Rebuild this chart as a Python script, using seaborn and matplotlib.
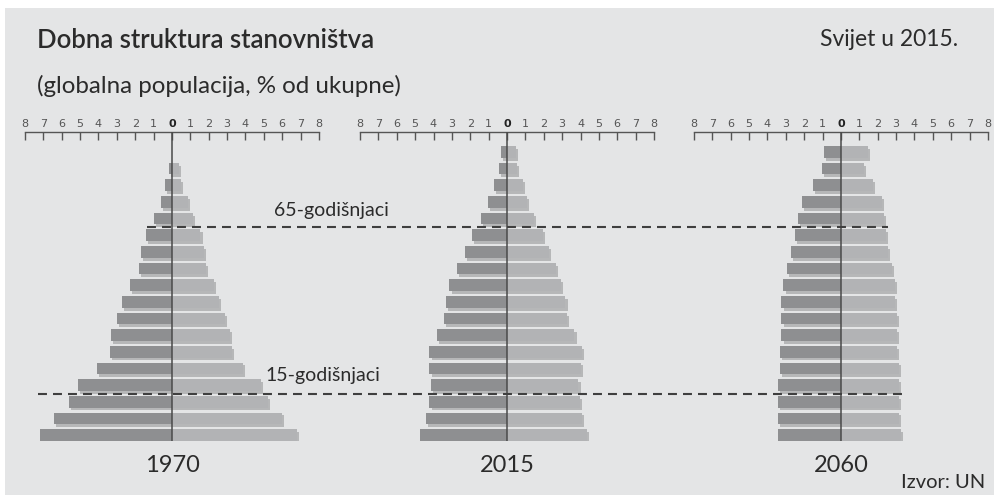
import matplotlib.pyplot as plt
import seaborn as sns
import pandas as pd
import numpy as np
from matplotlib import patheffects
from matplotlib.patches import Rectangle
from matplotlib.lines import Line2D
from matplotlib.transforms import blended_transform_factory

# age groups, oldest at the top
ages = ["85+", "80-84", "75-79", "70-74", "65-69", "60-64", "55-59", "50-54", "45-49",
        "40-44", "35-39", "30-34", "25-29", "20-24", "15-19", "10-14", "5-9", "0-4"]

years = ["1970", "2015", "2060"]

# % of world population, men (left) and women (right)
men_1970 = [np.nan, 0.18, 0.4, 0.6, 1.0, 1.4, 1.7, 1.8, 2.3, 2.7, 3.0, 3.3, 3.4, 4.1, 5.1, 5.6, 6.4, 7.2]
women_1970 = [np.nan, 0.4, 0.5, 0.87, 1.15, 1.55, 1.75, 1.87, 2.27, 2.56, 2.87, 3.16, 3.27, 3.84, 4.85, 5.24, 6.0, 6.8]

men_2015 = [0.31, 0.42, 0.71, 1.02, 1.42, 1.91, 2.31, 2.71, 3.13, 3.31, 3.42, 3.82, 4.22, 4.22, 4.13, 4.22, 4.42, 4.73]
women_2015 = [0.49, 0.55, 0.89, 1.09, 1.49, 1.96, 2.27, 2.67, 2.96, 3.18, 3.27, 3.67, 4.07, 4.0, 3.89, 3.98, 4.07, 4.36]

men_2060 = [0.93, 1.02, 1.53, 2.13, 2.33, 2.53, 2.73, 2.93, 3.13, 3.24, 3.24, 3.24, 3.33, 3.33, 3.42, 3.42, 3.42, 3.42]
women_2060 = [1.47, 1.27, 1.76, 2.25, 2.36, 2.45, 2.55, 2.75, 2.95, 2.95, 3.05, 3.05, 3.05, 3.15, 3.15, 3.15, 3.15, 3.24]

men = [men_1970, men_2015, men_2060]
women = [women_1970, women_2015, women_2060]

ticks = list(range(-8, 9))
tick_labels = [str(abs(t)) for t in ticks]

BG = "#e4e5e6"
DARK = "#8e8f91"
LIGHT = "#b2b3b5"
INK = "#2b2b2b"
RULE = "#555555"

sns.set_theme(style="white")
plt.rcParams["font.family"] = ["Lato", "DejaVu Sans"]

W, H = 995, 495
fig = plt.figure(figsize=(W / 100, H / 100), dpi=100)
fig.patch.set_facecolor("white")
fig.add_artist(Rectangle((5 / W, 0), 1 - 5 / W, 1 - 8 / H, transform=fig.transFigure,
                         facecolor=BG, edgecolor="none", zorder=-10))

shadow = [patheffects.SimplePatchShadow(offset=(1.5, -2.0), shadow_rgbFace="black", alpha=0.2),
          patheffects.Normal()]

lefts = [25, 360, 694]
axes = []
for i, yr in enumerate(years):
    ax = fig.add_axes([lefts[i] / W, (H - 441) / H, 294 / W, (441 - 132) / H])
    ax.patch.set_alpha(0)
    df = pd.DataFrame({"age": ages, "men": -np.array(men[i]), "women": women[i]})
    sns.barplot(data=df, x="men", y="age", order=ages, orient="h", color=DARK,
                width=0.7, saturation=1, ax=ax)
    sns.barplot(data=df, x="women", y="age", order=ages, orient="h", color=LIGHT,
                width=0.7, saturation=1, ax=ax)
    for p in ax.patches:
        p.set_path_effects(shadow)
        p.set_edgecolor("none")
    ax.axvline(0, color="#4a4a4a", lw=1.1, zorder=5)

    ax.set_xlim(-8, 8)
    ax.set_ylim(17.35, -1.2)
    ax.set_xlabel("")
    ax.set_ylabel("")
    ax.set_yticks([])
    ax.xaxis.tick_top()
    ax.set_xticks(ticks)
    ax.set_xticklabels(tick_labels, family="DejaVu Sans", fontsize=8, color=RULE)
    for lab in ax.get_xticklabels():
        if lab.get_text() == "0":
            lab.set_fontweight("bold")
            lab.set_color("#222222")
    ax.tick_params(axis="x", direction="in", length=6, width=1, color=RULE, pad=2)
    for s in ["left", "right", "bottom"]:
        ax.spines[s].set_visible(False)
    ax.spines["top"].set_color(RULE)
    ax.spines["top"].set_linewidth(1)
    ax.text(0.5, -0.078, yr, transform=ax.transAxes, ha="center", va="center",
            fontsize=17, color=INK)
    axes.append(ax)

# reference lines for 65 and 15 year olds
ax1 = axes[0]
tr = blended_transform_factory(fig.transFigure, ax1.transData)
for y, x0, x1 in [(4.5, 147, 888), (14.5, 38, 902)]:
    fig.add_artist(Line2D([x0 / W, x1 / W], [y, y], transform=tr, color="#3f3f3f",
                          lw=1.5, linestyle=(0, (4.3, 2.9)), zorder=20))
fig.text(331 / W, 1 - 210 / H, "65-godišnjaci", ha="center", va="center", fontsize=14, color=INK)
fig.text(323 / W, 1 - 375 / H, "15-godišnjaci", ha="center", va="center", fontsize=14, color=INK)

fig.text(37 / W, 1 - 40 / H, "Dobna struktura stanovništva", ha="left", va="center",
         fontsize=18.5, fontweight="semibold", color=INK)
fig.text(37 / W, 1 - 86 / H, "(globalna populacija, % od ukupne)", ha="left", va="center",
         fontsize=17.4, color=INK)
fig.text(958 / W, 1 - 40 / H, "Svijet u 2015.", ha="right", va="center", fontsize=16.5, color=INK)
fig.text(985 / W, 1 - 483 / H, "Izvor: UN", ha="right", va="center", fontsize=14.5, color=INK)

fig.savefig("out.png", dpi=100, facecolor=fig.get_facecolor())
